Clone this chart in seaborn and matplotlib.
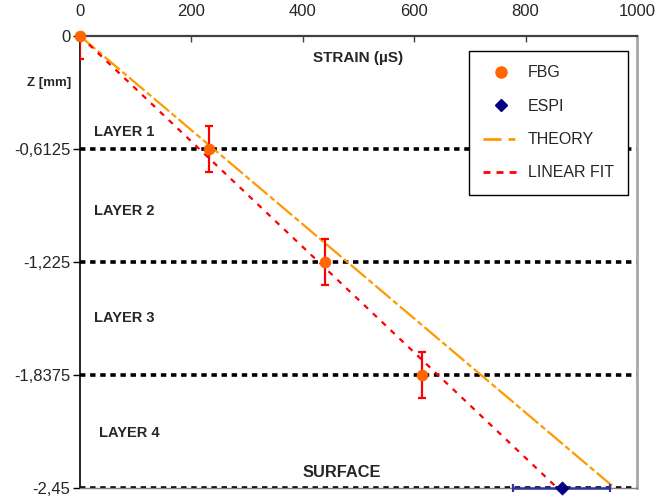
import numpy as np
import pandas as pd
import seaborn as sns
import matplotlib.pyplot as plt
from matplotlib.lines import Line2D

# data
fbg_strain = [0, 231, 440, 614]
fbg_z = [0, -0.6125, -1.225, -1.8375]
fbg_err = [0.125, 0.125, 0.125, 0.125]

espi_strain = [865]
espi_z = [-2.45]
espi_err = [87]

theory_strain = [0, 960]
theory_z = [0, -2.45]

fit_strain = [0, 857]
fit_z = [0, -2.45]

layer_z = [-0.6125, -1.225, -1.8375, -2.45]
layer_names = ["LAYER 1", "LAYER 2", "LAYER 3", "LAYER 4"]
layer_label_z = [-0.52, -0.95, -1.53, -2.154]
layer_label_x = [25, 25, 25, 34]

ytick_vals = [0, -0.6125, -1.225, -1.8375, -2.45]
ytick_labels = ["0", "-0,6125", "-1,225", "-1,8375", "-2,45"]
xtick_vals = [0, 200, 400, 600, 800, 1000]

sns.set_theme(style="white")
plt.rcParams['font.family'] = ['Liberation Sans', 'DejaVu Sans']

fig = plt.figure(figsize=(6.72, 4.98), dpi=100)
ax = fig.add_axes([80 / 672, 1 - 488 / 498, (637 - 80) / 672, (488 - 36) / 498])

# layer boundaries
for z in layer_z:
    ax.axhline(z, color="black", lw=2.6, ls=(0, (1.5, 1.3)), zorder=1)

fbg = pd.DataFrame({"strain": fbg_strain, "z": fbg_z})
espi = pd.DataFrame({"strain": espi_strain, "z": espi_z})
theory = pd.DataFrame({"strain": theory_strain, "z": theory_z})
fit = pd.DataFrame({"strain": fit_strain, "z": fit_z})

theory_ls = (0, (9, 1.5, 2.5, 1.5))
fit_ls = (0, (2.5, 3))

sns.lineplot(data=theory, x="strain", y="z", color="#FF9900", lw=1.6,
             linestyle=theory_ls, sort=False, ax=ax, zorder=2)
sns.lineplot(data=fit, x="strain", y="z", color="#FF0000", lw=1.6,
             linestyle=fit_ls, sort=False, ax=ax, zorder=2)

ax.errorbar(fbg_strain, fbg_z, yerr=fbg_err, fmt="none", ecolor="#FF0000",
            elinewidth=1.6, capsize=3, capthick=1.6, zorder=3)
espi_eb = ax.errorbar(espi_strain, espi_z, xerr=espi_err, fmt="none",
                      ecolor="#3333A0", elinewidth=1.8, capsize=3,
                      capthick=1.6, zorder=3)
for art in espi_eb.get_children():
    art.set_clip_on(False)

sns.scatterplot(data=fbg, x="strain", y="z", color="#FF6600", s=60,
                marker="o", edgecolor="#FF6600", ax=ax, zorder=4, clip_on=False)
sns.scatterplot(data=espi, x="strain", y="z", color="#000080", s=45,
                marker="D", edgecolor="#000080", ax=ax, zorder=4, clip_on=False)

ax.set_xlim(0, 1000)
ax.set_ylim(-2.45, 0)
ax.xaxis.tick_top()
ax.set_xticks(xtick_vals)
ax.set_yticks(ytick_vals)
ax.set_yticklabels(ytick_labels)
ax.set_xlabel("")
ax.set_ylabel("")
ax.tick_params(axis="x", top=True, bottom=False, direction="in", length=4,
               width=1, color="#404040", labelsize=12, pad=12)
ax.tick_params(axis="y", left=True, direction="out", length=5, width=1,
               color="black", labelsize=12, pad=2)

ax.spines["top"].set_color("#404040")
ax.spines["top"].set_linewidth(1.6)
ax.spines["left"].set_color("black")
ax.spines["left"].set_linewidth(1.2)
ax.spines["right"].set_color("#A8A8A8")
ax.spines["right"].set_linewidth(2)
ax.spines["bottom"].set_color("#808080")
ax.spines["bottom"].set_linewidth(1)

# labels inside the plot
ax.text(499, -0.119, "STRAIN (µS)", fontsize=11, fontweight="bold",
        ha="center", va="center")
ax.text(-56, -0.255, "Z [mm]", fontsize=9.5, fontweight="bold",
        ha="center", va="center", clip_on=False)
for name, x, z in zip(layer_names, layer_label_x, layer_label_z):
    ax.text(x, z, name, fontsize=10.5, fontweight="bold", ha="left", va="center")
ax.text(400, -2.366, "SURFACE", fontsize=11.8, fontweight="bold",
        ha="left", va="center")

handles = [
    Line2D([], [], ls="none", marker="o", color="#FF6600", markersize=8),
    Line2D([], [], ls="none", marker="D", color="#000080", markersize=6),
    Line2D([], [], color="#FF9900", lw=2, linestyle=(0, (6.5, 2.5, 2.5, 2.5))),
    Line2D([], [], color="#FF0000", lw=2, linestyle=(0, (2.5, 2.2))),
]
leg = ax.legend(handles, ["FBG", "ESPI", "THEORY", "LINEAR FIT"],
                loc="upper left", bbox_to_anchor=(469 / 672, 1 - 51 / 498),
                bbox_transform=fig.transFigure, fontsize=11.5, frameon=True,
                fancybox=False, framealpha=1, edgecolor="black",
                labelspacing=1.15, handlelength=2.2, handletextpad=0.6,
                borderpad=0.9, borderaxespad=0)
leg.get_frame().set_linewidth(1)
leg.set_zorder(5)

fig.savefig("out.png", dpi=100)
